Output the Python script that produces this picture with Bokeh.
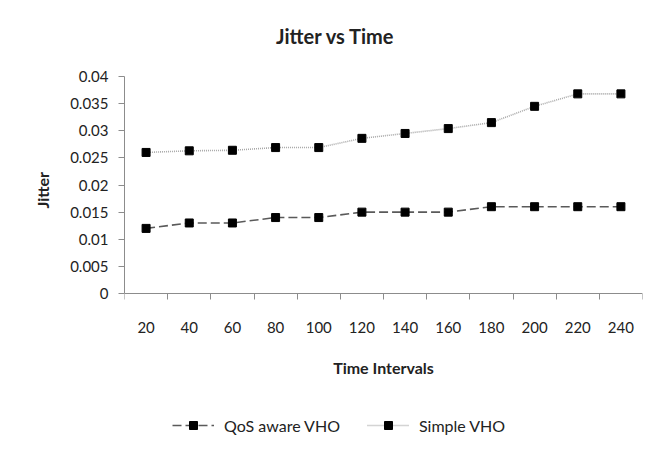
from bokeh.plotting import figure
from bokeh.models import (Range1d, FixedTicker, Legend, LegendItem, Title, Label)
from bokeh.embed import file_html
from bokeh.resources import INLINE

# ---- data ----
time_intervals = [20, 40, 60, 80, 100, 120, 140, 160, 180, 200, 220, 240]
qos_aware_vho = [0.012, 0.013, 0.013, 0.014, 0.014, 0.015, 0.015, 0.015, 0.016, 0.016, 0.016, 0.016]
simple_vho = [0.026, 0.0263, 0.0264, 0.0269, 0.0269, 0.0286, 0.0295, 0.0304, 0.0315, 0.0345, 0.0368, 0.0368]
y_ticks = [0, 0.005, 0.01, 0.015, 0.02, 0.025, 0.03, 0.035, 0.04]
y_tick_labels = ["0", "0.005", "0.01", "0.015", "0.02", "0.025", "0.03", "0.035", "0.04"]
chart_title = "Jitter vs Time"

FONT = "Lato"
AXIS_COLOR = "#8c8c8c"
TEXT_COLOR = "#222222"

W, H = 647, 436
FRAME_LEFT, FRAME_RIGHT = 124, 642
TOP_PX = 76            # pixel row of y = 0.04
ZERO_PX = 293          # pixel row of y = 0 (x axis line)
# the frame covers the whole height so title and legend can be drawn inside it
FRAME_TOP, FRAME_BOTTOM = 0, H

y_max = y_ticks[-1]
ppu = (ZERO_PX - TOP_PX) / y_max
y_view_start = -(FRAME_BOTTOM - ZERO_PX) / ppu
y_view_end = y_max + (TOP_PX - FRAME_TOP) / ppu

half = (time_intervals[1] - time_intervals[0]) / 2
boundaries = [t - half for t in time_intervals] + [time_intervals[-1] + half]
x_view_start, x_view_end = time_intervals[0] - half, time_intervals[-1] + half

def px_to_x(px):
    return x_view_start + (px - FRAME_LEFT) * (x_view_end - x_view_start) / (FRAME_RIGHT - FRAME_LEFT)

def px_to_y(py):
    return (ZERO_PX - py) / ppu

p = figure(width=W, height=H, output_backend="svg", toolbar_location=None,
           x_range=Range1d(x_view_start, x_view_end),
           y_range=Range1d(y_view_start, y_view_end),
           min_border_left=FRAME_LEFT, min_border_right=W - FRAME_RIGHT,
           min_border_top=FRAME_TOP, min_border_bottom=H - FRAME_BOTTOM)
p.background_fill_color = "white"
p.border_fill_color = "white"
p.outline_line_color = None
p.xgrid.visible = False
p.ygrid.visible = False

p.add_layout(Label(x=px_to_x(335), y=px_to_y(35), text=chart_title,
                   text_align="center", text_baseline="middle",
                   text_font=FONT, text_font_size="20px", text_font_style="bold",
                   text_color=TEXT_COLOR))

# y axis title, centred on the 0..0.04 part of the axis
yt = Title(text="Jitter", align="left", offset=FRAME_BOTTOM - 208,
           text_font=FONT, text_font_size="16px", text_font_style="bold",
           text_color=TEXT_COLOR, standoff=32)
p.add_layout(yt, "left")

# x axis, drawn at y = 0
xa = p.xaxis[0]
xa.fixed_location = 0
xa.ticker = FixedTicker(ticks=time_intervals, minor_ticks=boundaries)
xa.axis_line_color = AXIS_COLOR
xa.major_tick_line_color = None
xa.major_tick_out = 0
xa.major_tick_in = 0
xa.minor_tick_line_color = AXIS_COLOR
xa.minor_tick_out = 6
xa.minor_tick_in = 0
xa.major_label_standoff = 22
xa.major_label_text_font = FONT
xa.major_label_text_font_size = "15px"
xa.major_label_text_color = TEXT_COLOR
xa.axis_label = "Time Intervals"
xa.axis_label_text_font = FONT
xa.axis_label_text_font_size = "16px"
xa.axis_label_text_font_style = "bold"
xa.axis_label_text_color = TEXT_COLOR
xa.axis_label_standoff = 22

# y axis, limited to 0..0.04
ya = p.yaxis[0]
ya.bounds = (y_ticks[0], y_ticks[-1])
ya.ticker = FixedTicker(ticks=y_ticks, minor_ticks=[])
ya.major_label_overrides = {k: v for k, v in zip(y_ticks, y_tick_labels)}
ya.axis_line_color = AXIS_COLOR
ya.major_tick_line_color = AXIS_COLOR
ya.major_tick_out = 6
ya.major_tick_in = 0
ya.minor_tick_line_color = None
ya.major_label_standoff = 10
ya.major_label_text_font = FONT
ya.major_label_text_font_size = "15px"
ya.major_label_text_color = TEXT_COLOR

# series
q_line = p.line(time_intervals, qos_aware_vho, line_color="#5a5a5a", line_width=1.6,
                line_dash="9 4")
q_mark = p.scatter(time_intervals, qos_aware_vho, marker="square", size=8,
                   fill_color="black", line_color="black")
s_line = p.line(time_intervals, simple_vho, line_color="#a8a8a8", line_width=1.6,
                line_dash="1 1")
s_mark = p.scatter(time_intervals, simple_vho, marker="square", size=8,
                   fill_color="black", line_color="black")

legend = Legend(items=[LegendItem(label="QoS aware VHO", renderers=[q_line, q_mark]),
                       LegendItem(label="Simple VHO", renderers=[s_line, s_mark])],
                orientation="horizontal", location=(48, 1),
                padding=0, margin=0, spacing=27, glyph_width=42, glyph_height=20,
                label_standoff=10, border_line_color=None, background_fill_alpha=0,
                label_text_font=FONT, label_text_font_size="16px",
                label_text_color=TEXT_COLOR)
p.add_layout(legend, "center")

open("out.html", "w").write(file_html(p, INLINE))
